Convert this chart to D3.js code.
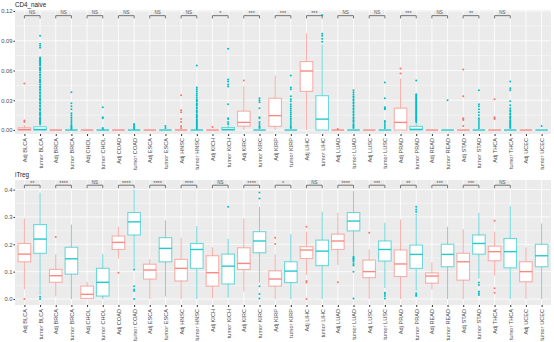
<!DOCTYPE html>
<html>
<head>
<meta charset="utf-8">
<script src="https://cdn.jsdelivr.net/npm/d3@7"></script>
<style>
  html, body { margin: 0; padding: 0; background: #fff; }
  svg { display: block; font-family: "Liberation Sans", Arial, sans-serif; }
</style>
</head>
<body>
<svg id="chart" width="554" height="342"></svg>
<script>
// cancer types, two groups per type
const cancers = ['BLCA', 'BRCA', 'CHOL', 'COAD', 'ESCA', 'HNSC', 'KICH', 'KIRC', 'KIRP',
  'LIHC', 'LUAD', 'LUSC', 'PRAD', 'READ', 'STAD', 'THCA', 'UCEC'];
const groups = ['Adj', 'tumor'];
const categories = cancers.flatMap(c => groups.map(g => g + ' ' + c));

const cd4Ticks = [0, 0.03, 0.06, 0.09, 0.12];
const itregTicks = [0, 0.1, 0.2, 0.3, 0.4];

// box stats per category: [lower whisker, q1, median, q3, upper whisker]
const cd4Stats = [
  [0, 0, 0.0004, 0.0022, 0.005], [0, 0, 0.0005, 0.0033, 0.0055],
  [0, 0, 0, 0, 0], [0, 0, 0, 0, 0],
  [0, 0, 0, 0, 0], [0, 0, 0, 0, 0],
  [0, 0, 0, 0, 0], [0, 0, 0, 0, 0],
  [0, 0, 0, 0, 0], [0, 0, 0, 0, 0],
  [0, 0, 0, 0, 0], [0, 0, 0, 0, 0],
  [0, 0, 0, 0, 0], [0, 0, 0.0005, 0.0025, 0.005],
  [0, 0.004, 0.0077, 0.019, 0.044], [0, 0, 0, 0, 0],
  [0, 0.0037, 0.0145, 0.032, 0.055], [0, 0, 0, 0, 0],
  [0, 0.039, 0.0595, 0.069, 0.0975], [0, 0, 0.011, 0.0346, 0.086],
  [0, 0, 0, 0, 0], [0, 0, 0, 0, 0],
  [0, 0, 0, 0, 0], [0, 0, 0, 0, 0],
  [0, 0, 0.0077, 0.022, 0.052], [0, 0, 0.0007, 0.0037, 0.0075],
  [0, 0, 0, 0, 0], [0, 0, 0, 0, 0],
  [0, 0, 0, 0, 0], [0, 0, 0, 0, 0],
  [0, 0, 0, 0, 0], [0, 0, 0, 0, 0],
  [0, 0, 0, 0, 0], [0, 0, 0, 0, 0]
];

const cd4Outliers = [
  [0.047, 0.0095, 0.008],
  [0.095, 0.087, 0.085, 0.083, 0.073, 0.072, 0.071, 0.070, 0.069, 0.068, 0.067, 0.066, 0.065, 0.063,
    0.062, 0.061, 0.060, 0.058, 0.056, 0.055, 0.053, 0.051, 0.050, 0.049, 0.048, 0.046, 0.044, 0.043,
    0.041, 0.040, 0.038, 0.037, 0.035, 0.034, 0.032, 0.031, 0.030, 0.028, 0.027, 0.025, 0.024, 0.022,
    0.021, 0.020, 0.018, 0.017, 0.016, 0.015, 0.013, 0.012, 0.011, 0.010, 0.009, 0.008, 0.007, 0.006],
  [],
  [0.038, 0.027, 0.024, 0.021, 0.017, 0.015, 0.013, 0.011, 0.009, 0.007, 0.005, 0.004, 0.003, 0.002, 0.001],
  [],
  [0.023, 0.013, 0.012, 0.002, 0.001],
  [],
  [0.006, 0.005, 0.004, 0.003, 0.002, 0.001],
  [],
  [0.004, 0.002],
  [0.035, 0.020, 0.018, 0.011, 0.008, 0.004, 0.002],
  [0.065, 0.043, 0.041, 0.039, 0.037, 0.035, 0.033, 0.031, 0.030, 0.029, 0.027, 0.026, 0.025, 0.023,
    0.022, 0.020, 0.019, 0.018, 0.016, 0.015, 0.014, 0.013, 0.011, 0.010, 0.009, 0.008, 0.007, 0.006,
    0.005, 0.004, 0.003, 0.002, 0.001],
  [0.003],
  [0.082, 0.051, 0.049, 0.046, 0.044, 0.026, 0.012, 0.011, 0.008, 0.006],
  [0.050],
  [0.032, 0.030, 0.028, 0.022, 0.013, 0.012, 0.008, 0.006, 0.004, 0.003, 0.002],
  [],
  [0.055, 0.043, 0.041, 0.034, 0.031, 0.029, 0.026, 0.024, 0.022, 0.020, 0.018, 0.016, 0.014, 0.012,
    0.010, 0.008, 0.006, 0.004, 0.003, 0.002],
  [],
  [0.116, 0.097, 0.095, 0.092, 0.089],
  [0.001],
  [0.040, 0.038, 0.036, 0.034, 0.033, 0.031, 0.030, 0.028, 0.027, 0.025, 0.024, 0.022, 0.021, 0.019,
    0.018, 0.016, 0.015, 0.013, 0.012, 0.010, 0.009, 0.008, 0.006, 0.005, 0.004, 0.003, 0.002],
  [],
  [0.048, 0.032, 0.023, 0.022, 0.021, 0.009, 0.008, 0.006, 0.004, 0.002],
  [0.062, 0.057],
  [0.050, 0.036, 0.035, 0.034, 0.033, 0.032, 0.031, 0.030, 0.029, 0.028, 0.027, 0.026, 0.025, 0.024,
    0.023, 0.022, 0.021, 0.020, 0.019, 0.018, 0.017, 0.016, 0.015, 0.014, 0.013, 0.012, 0.011, 0.010,
    0.009, 0.008],
  [],
  [0.030],
  [0.061, 0.034, 0.012, 0.011, 0.010, 0.004],
  [0.040, 0.026, 0.024, 0.021, 0.018, 0.015, 0.012, 0.010, 0.008, 0.006, 0.004, 0.002],
  [0.031, 0.013, 0.012, 0.011],
  [0.049, 0.042, 0.040, 0.029, 0.025, 0.022, 0.020, 0.019, 0.017, 0.016, 0.014, 0.013, 0.012, 0.010,
    0.009, 0.008, 0.007, 0.006, 0.005, 0.004, 0.003, 0.002],
  [],
  [0.004]
];

const itregStats = [
  [0.035, 0.136, 0.164, 0.203, 0.294], [0.015, 0.167, 0.219, 0.272, 0.389],
  [0.009, 0.061, 0.085, 0.108, 0.163], [0, 0.091, 0.147, 0.189, 0.272],
  [0, 0.002, 0.017, 0.047, 0.063], [0, 0.011, 0.061, 0.112, 0.164],
  [0.148, 0.181, 0.207, 0.230, 0.264], [0.115, 0.234, 0.282, 0.316, 0.400],
  [0, 0.073, 0.106, 0.127, 0.146], [0.009, 0.136, 0.185, 0.224, 0.288],
  [0, 0.066, 0.112, 0.145, 0.224], [0, 0.112, 0.181, 0.203, 0.266],
  [0.002, 0.047, 0.096, 0.158, 0.189], [0.005, 0.055, 0.120, 0.164, 0.220],
  [0.027, 0.108, 0.130, 0.187, 0.294], [0.060, 0.169, 0.212, 0.246, 0.337],
  [0, 0.047, 0.073, 0.103, 0.163], [0, 0.060, 0.102, 0.136, 0.237],
  [0.088, 0.148, 0.179, 0.191, 0.246], [0, 0.122, 0.175, 0.215, 0.319],
  [0.124, 0.181, 0.212, 0.237, 0.315], [0.161, 0.249, 0.285, 0.316, 0.395],
  [0, 0.078, 0.100, 0.142, 0.181], [0.040, 0.139, 0.181, 0.212, 0.279],
  [0, 0.082, 0.128, 0.179, 0.291], [0.030, 0.112, 0.163, 0.197, 0.313],
  [0.035, 0.058, 0.084, 0.095, 0.134], [0, 0.118, 0.163, 0.200, 0.264],
  [0, 0.069, 0.136, 0.167, 0.255], [0.075, 0.164, 0.203, 0.234, 0.315],
  [0.085, 0.140, 0.173, 0.193, 0.246], [0, 0.114, 0.173, 0.221, 0.339],
  [0, 0.063, 0.100, 0.136, 0.189], [0, 0.118, 0.158, 0.200, 0.276]
];

const itregOutliers = [
  [0.0], [0.008, 0.0],
  [0.227], [],
  [], [],
  [0.096], [0.108, 0.047, 0.035, 0.029, 0.0],
  [], [],
  [], [],
  [], [0.337],
  [], [0.389, 0.367, 0.047, 0.018, 0.002],
  [0.224, 0.201], [],
  [0.264, 0.066, 0.060, 0.0], [],
  [0.061], [0.155, 0.151, 0.148, 0.145, 0.142, 0.136, 0.128, 0.122, 0.100, 0.002],
  [0.242], [0.023, 0.018, 0.011, 0.002],
  [], [0.337, 0.327, 0.319, 0.021, 0.015, 0.011],
  [], [],
  [], [0.060, 0.051, 0.027, 0.021, 0.015],
  [0.286, 0.039, 0.023], [],
  [], []
];

// significance label per cancer type (null = no comparison)
const cd4Signif = ['NS', 'NS', 'NS', 'NS', 'NS', 'NS', '*', '***', '***', '***', 'NS', 'NS', '***', 'NS', '**', 'NS', null];
const itregSignif = ['**', '****', 'NS', '****', '****', '****', 'NS', '****', '*', 'NS', '****', '***', '**', '***', '***', 'NS', null];

const groupColor = d3.scaleOrdinal().domain(groups).range(['#F8766D', '#00BFC4']);

const svg = d3.select('#chart');
const panelLeft = 15, panelRight = 551;

const xScale = d3.scalePoint()
  .domain(categories)
  .range([panelLeft, panelRight])
  .padding(0.6);
const boxW = xScale.step() * 0.8;

function drawPanel(opts) {
  const { title, top, bottom, domain, ticks, fmt, stats, outliers, signif, bracketY, tickDrop } = opts;

  const y = d3.scaleLinear().domain(domain).range([bottom, top]);
  const g = svg.append('g');

  // strip title
  g.append('text')
    .attr('x', panelLeft)
    .attr('y', top - 3)
    .attr('font-size', 6.3)
    .attr('fill', '#1a1a1a')
    .text(title);

  // panel background
  g.append('rect')
    .attr('x', panelLeft).attr('y', top)
    .attr('width', panelRight - panelLeft).attr('height', bottom - top)
    .attr('fill', '#EBEBEB');

  // minor grid
  const minor = ticks.slice(1).map((t, i) => (t + ticks[i]) / 2);
  g.selectAll('.minor').data(minor).enter().append('line')
    .attr('x1', panelLeft).attr('x2', panelRight)
    .attr('y1', d => y(d)).attr('y2', d => y(d))
    .attr('stroke', '#fff').attr('stroke-width', 0.4);

  // major grid
  g.selectAll('.hgrid').data(ticks).enter().append('line')
    .attr('x1', panelLeft).attr('x2', panelRight)
    .attr('y1', d => y(d)).attr('y2', d => y(d))
    .attr('stroke', '#fff').attr('stroke-width', 0.8);
  g.selectAll('.vgrid').data(categories).enter().append('line')
    .attr('x1', d => xScale(d)).attr('x2', d => xScale(d))
    .attr('y1', top).attr('y2', bottom)
    .attr('stroke', '#fff').attr('stroke-width', 0.8);

  // y axis
  const yAxis = d3.axisLeft(y).tickValues(ticks).tickFormat(fmt).tickSize(1.5).tickPadding(1);
  const ya = g.append('g').attr('transform', `translate(${panelLeft},0)`).call(yAxis);
  ya.select('.domain').remove();
  ya.selectAll('line').attr('stroke', '#333');
  ya.selectAll('text').attr('font-size', 5.8).attr('fill', '#4D4D4D');

  // x axis
  const xAxis = d3.axisBottom(xScale).tickSize(2).tickPadding(2);
  const xa = g.append('g').attr('transform', `translate(0,${bottom})`).call(xAxis);
  xa.select('.domain').remove();
  xa.selectAll('line').attr('stroke', '#333');
  xa.selectAll('text')
    .attr('font-size', 5.6).attr('fill', '#4D4D4D')
    .attr('transform', 'rotate(-90)')
    .attr('text-anchor', 'end')
    .attr('x', -4).attr('y', 0).attr('dy', '0.35em');

  // boxes
  const boxes = g.selectAll('.box')
    .data(categories.map((c, i) => ({ c, grp: c.split(' ')[0], s: stats[i], out: outliers[i] })))
    .enter().append('g');

  boxes.append('line')
    .attr('x1', d => xScale(d.c)).attr('x2', d => xScale(d.c))
    .attr('y1', d => y(d.s[3])).attr('y2', d => y(d.s[4]))
    .attr('stroke', d => groupColor(d.grp)).attr('stroke-opacity', 0.55).attr('stroke-width', 1);
  boxes.append('line')
    .attr('x1', d => xScale(d.c)).attr('x2', d => xScale(d.c))
    .attr('y1', d => y(d.s[0])).attr('y2', d => y(d.s[1]))
    .attr('stroke', d => groupColor(d.grp)).attr('stroke-opacity', 0.55).attr('stroke-width', 1);
  boxes.append('rect')
    .attr('x', d => xScale(d.c) - boxW / 2)
    .attr('y', d => y(d.s[3]))
    .attr('width', boxW)
    .attr('height', d => y(d.s[1]) - y(d.s[3]))
    .attr('fill', '#fff')
    .attr('stroke', d => groupColor(d.grp)).attr('stroke-opacity', 0.55).attr('stroke-width', 1.1);
  boxes.append('line')
    .attr('x1', d => xScale(d.c) - boxW / 2).attr('x2', d => xScale(d.c) + boxW / 2)
    .attr('y1', d => y(d.s[2])).attr('y2', d => y(d.s[2]))
    .attr('stroke', d => groupColor(d.grp)).attr('stroke-opacity', 0.85).attr('stroke-width', 1.4);

  boxes.each(function (d) {
    d3.select(this).selectAll('circle').data(d.out).enter().append('circle')
      .attr('cx', xScale(d.c))
      .attr('cy', v => y(v))
      .attr('r', 1)
      .attr('fill', groupColor(d.grp));
  });

  // significance brackets
  const pairs = cancers.map((c, i) => ({ a: 'Adj ' + c, b: 'tumor ' + c, label: signif[i] }))
    .filter(p => p.label);
  const yb = y(bracketY), yt = y(bracketY - tickDrop);
  const br = g.selectAll('.bracket').data(pairs).enter().append('g');
  br.append('path')
    .attr('d', p => `M${xScale(p.a)},${yt}V${yb}H${xScale(p.b)}V${yt}`)
    .attr('fill', 'none').attr('stroke', '#666').attr('stroke-width', 0.9);
  br.append('text')
    .attr('x', p => (xScale(p.a) + xScale(p.b)) / 2)
    .attr('y', p => yb - (p.label === 'NS' ? 1.5 : 0.2))
    .attr('text-anchor', 'middle')
    .attr('font-size', p => p.label === 'NS' ? 4.5 : 5.5)
    .attr('fill', '#555')
    .text(p => p.label);
}

drawPanel({
  title: 'CD4_naive', top: 10, bottom: 134, domain: [-0.004, 0.121],
  ticks: cd4Ticks, fmt: d3.format('.2f'),
  stats: cd4Stats, outliers: cd4Outliers, signif: cd4Signif,
  bracketY: 0.1153, tickDrop: 0.0028
});

drawPanel({
  title: 'iTreg', top: 180, bottom: 305, domain: [-0.022, 0.435],
  ticks: itregTicks, fmt: d3.format('.1f'),
  stats: itregStats, outliers: itregOutliers, signif: itregSignif,
  bracketY: 0.416, tickDrop: 0.011
});
</script>
</body>
</html>
